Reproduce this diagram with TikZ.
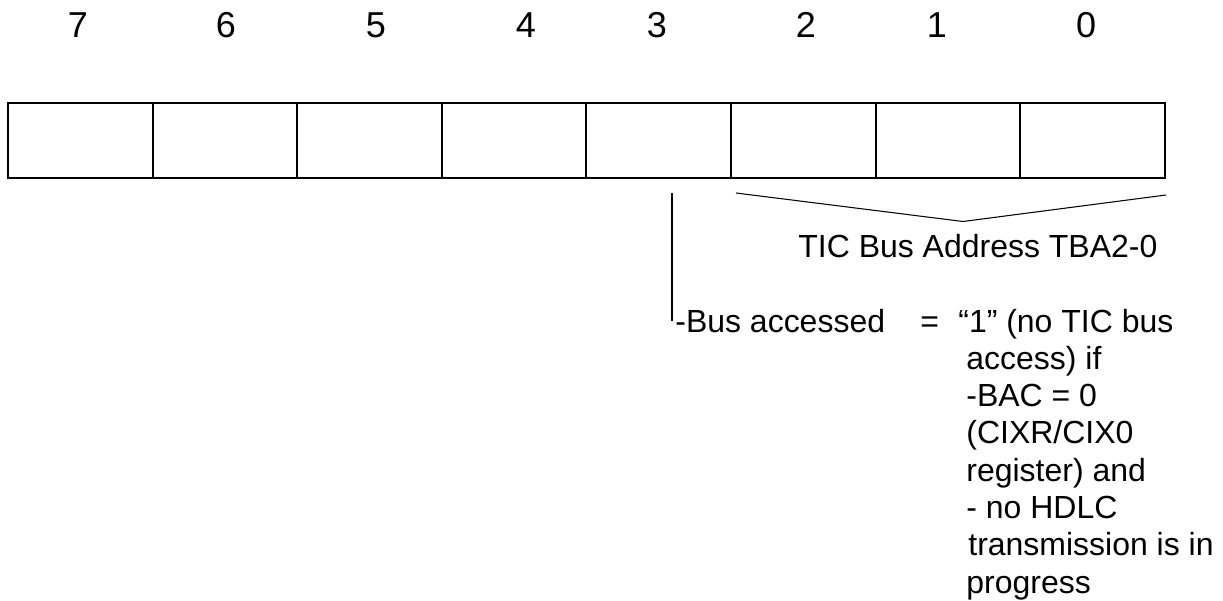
\documentclass[tikz,border=0pt]{standalone}
\usepackage{fontspec}
\setmainfont{Liberation Sans}

\begin{document}
\begin{tikzpicture}[
  cell/.style={draw, line width=1.2pt, minimum width=2.892cm, minimum height=1.5cm, inner sep=0pt, outer sep=0pt},
  bitno/.style={anchor=base, font=\fontsize{20.5}{24}\selectfont},
  txt/.style={inner sep=0pt, anchor=base west, font=\fontsize{18.2}{21.2}\selectfont}]
\useasboundingbox (0,0) rectangle (24.46,12);
% register, bit 7 on the left
\foreach \b in {0,...,7}
  \node[cell] (c\b) at ({0.16+(7.5-\b)*2.892},9.19) {};
\foreach \b/\x in {7/1.56,6/4.52,5/7.52,4/10.52,3/13.14,2/16.12,1/18.74,0/21.72}
  \node[bitno] (n\b) at (\x,11.24) {\b};
% bits 2-0
\coordinate (a0) at (14.72,8.14);
\coordinate (a1) at (19.26,7.57);
\coordinate (a2) at (23.32,8.10);
\draw[line width=0.6pt] (a0) -- (a1) -- (a2);
\node[txt] (tba) at (15.96,6.86) {TIC Bus Address TBA2-0};
% bit 3
\node[txt] (bus) at (13.5,5.36) {-Bus accessed};
\coordinate (b3) at (13.44,8.14);
\draw[line width=0.8pt] (b3) -- (b3 |- bus.west);
\node[txt] (eq) at (18.4,5.36) {=};
% base of a multi-line node is its last line
\node[txt, align=left] (cond) at (19.32,0.14) {\kern-0.16cm“1” (no TIC bus\\
  access) if\\
  -BAC = 0\\
  (CIXR/CIX0\\
  register) and\\
  - no HDLC\\
  \kern0.04cm transmission is in\\
  progress};
\end{tikzpicture}
\end{document}
